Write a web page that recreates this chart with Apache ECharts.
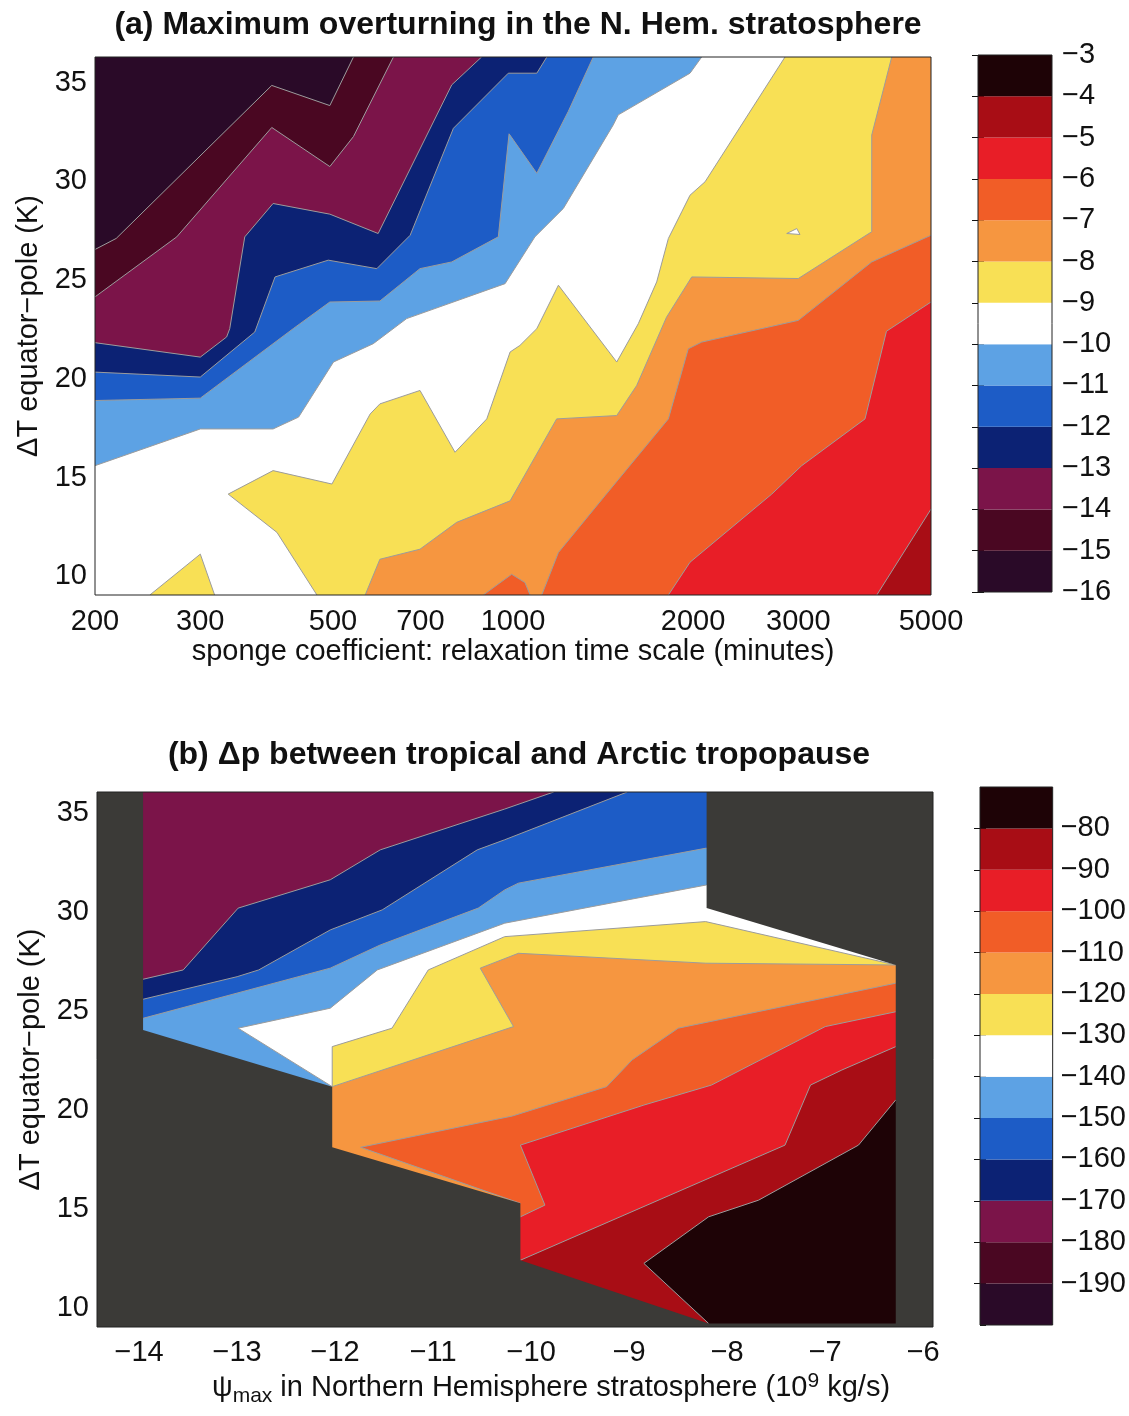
<!DOCTYPE html>
<html>
<head>
<meta charset="utf-8">
<script src="https://cdn.jsdelivr.net/npm/echarts@6/dist/echarts.min.js"></script>
<style>
  html, body { margin: 0; padding: 0; background: #ffffff; }
  #chart { width: 1129px; height: 1416px; }
</style>
</head>
<body>
<div id="chart"></div>
<script>
// ---------- shared ----------
const FONT = '"Liberation Sans", Arial, Helvetica, sans-serif';
// 13-step diverging palette, lowest band first
const bandColors = ['#2a0a28', '#4a0722', '#7b1449', '#0c2274', '#1d5cc6', '#5da2e4',
  '#ffffff', '#f8e055', '#f69640', '#f15d27', '#e81e27', '#a80d15', '#1e0306'];
const maskColor = '#3b3a37';
const lineColor = '#9c9c9c';

// ---------- panel (a): max overturning vs sponge coefficient ----------
const spongeTicks = [200, 300, 500, 700, 1000, 2000, 3000, 5000];
const dTTicks = [10, 15, 20, 25, 30, 35];
const spongeExtent = [200, 5000];
const dTExtentA = [9.05, 36.3];
const levelsA = [-16, -15, -14, -13, -12, -11, -10, -9, -8, -7, -6, -5, -4, -3];

// contour lines [sponge (min), dT (K)]
const contourA_m15 = [[541, 36.3], [494, 33.84], [395, 34.86], [217, 27.11], [200, 26.55]];
const contourA_m14 = [[631, 36.3], [541, 32.27], [494, 30.75], [395, 32.73], [274, 27.19], [200, 24.15]];
const contourA_m13 = [[886, 36.3], [790, 34.89], [595, 27.36], [494, 28.34], [397, 28.88], [356, 27.19],
  [336, 22.54], [332, 22.12], [300, 21.10], [200, 21.83]];
const contourA_m12 = [[1139, 36.3], [1096, 35.48], [982, 35.48], [795, 32.69], [673, 27.27], [592, 25.58],
  [491, 26.01], [400, 25.16], [370, 22.37], [300, 20.09], [200, 20.34]];
const contourA_m11 = [[1362, 36.3], [1237, 33.54], [1096, 30.41], [985, 32.41], [945, 27.19], [790, 25.92],
  [699, 25.58], [599, 23.94], [494, 23.89], [429, 22.54], [300, 19.02], [200, 18.90]];
const contourA_m10 = [[2068, 36.3], [1977, 35.48], [1500, 33.37], [1471, 32.86], [1214, 28.63], [1088, 27.19],
  [970, 24.82], [664, 23.05], [584, 21.78], [501, 20.85], [438, 18.06], [397, 17.46], [300, 17.46], [200, 15.60]];
const contourA_m9 = [[2850, 36.3], [2095, 29.98], [1977, 29.30], [1915, 28.46], [1819, 27.11], [1739, 24.91],
  [1620, 22.79], [1491, 20.85], [1191, 24.74], [1096, 22.54], [1027, 21.69], [989, 21.36], [904, 17.97],
  [800, 16.28], [699, 19.41], [599, 18.73], [577, 18.22], [498, 14.67], [397, 15.35], [334, 14.16],
  [403, 12.22], [470, 9.05]];
const contourA_m8 = [[4298, 36.3], [3980, 32.35], [3980, 27.45], [3000, 25.08], [1990, 25.16], [1806, 23.12],
  [1610, 19.66], [1491, 18.14], [1183, 17.97], [989, 13.82], [805, 12.73], [699, 11.37], [599, 10.86], [566, 9.05]];
const contourA_m7 = [[5000, 27.27], [3980, 25.92], [3000, 22.96], [2068, 21.86], [1964, 21.52], [1819, 17.97],
  [1425, 14.08], [1191, 11.20], [1117, 9.05]];
const contourA_m6 = [[5000, 23.89], [4212, 22.41], [3878, 17.97], [3039, 15.60], [2708, 14.16], [1977, 10.71], [1819, 9.05]];
const contourA_m5 = [[5000, 13.40], [4058, 9.05]];
// small closed pockets
const pocketA_yellow = [[247, 9.05], [300, 11.12], [317, 9.05]];
const pocketA_orange = [[892, 9.05], [995, 10.10], [1047, 9.68], [1068, 9.05]];
const pocketA_white = [[2869, 27.36], [2982, 27.61], [3019, 27.31]];

const contoursA = [
  { level: -5, pts: contourA_m5, ends: ['right', 'bottom'] },
  { level: -6, pts: contourA_m6, ends: ['right', 'bottom'] },
  { level: -7, pts: contourA_m7, ends: ['right', 'bottom'] },
  { level: -8, pts: contourA_m8, ends: ['top', 'bottom'] },
  { level: -9, pts: contourA_m9, ends: ['top', 'bottom'] },
  { level: -10, pts: contourA_m10, ends: ['top', 'left'] },
  { level: -11, pts: contourA_m11, ends: ['top', 'left'] },
  { level: -12, pts: contourA_m12, ends: ['top', 'left'] },
  { level: -13, pts: contourA_m13, ends: ['top', 'left'] },
  { level: -14, pts: contourA_m14, ends: ['top', 'left'] },
  { level: -15, pts: contourA_m15, ends: ['top', 'left'] }
];
const pocketsA = [
  { low: -9, pts: pocketA_yellow, closed: false },
  { low: -7, pts: pocketA_orange, closed: false },
  { low: -10, pts: pocketA_white, closed: true }
];

// ---------- panel (b): tropopause pressure difference vs psi_max ----------
const psiTicks = [-14, -13, -12, -11, -10, -9, -8, -7, -6];
const psiExtent = [-14.43, -5.9];
const dTExtentB = [9.05, 36.05];
const levelsB = [-200, -190, -180, -170, -160, -150, -140, -130, -120, -110, -100, -90, -80, -70];

// outline of the sampled (psi_max, dT) region
const domainB = [[-13.96, 36.05], [-8.21, 36.05], [-8.21, 30.19], [-6.28, 27.32], [-6.28, 9.23], [-8.19, 9.23],
  [-10.11, 12.42], [-10.11, 15.29], [-12.03, 18.12], [-12.03, 21.18], [-13.96, 24.04]];

const contourB_m170 = [[-9.77, 36.05], [-10.27, 35.19], [-11.54, 33.13], [-12.05, 31.62], [-12.99, 30.19], [-13.55, 27.07], [-13.96, 26.60]];
const contourB_m160 = [[-9.02, 36.05], [-10.27, 33.64], [-10.55, 33.13], [-11.52, 30.10], [-12.05, 29.09], [-12.78, 27.07], [-13.00, 26.73], [-13.96, 25.59]];
const contourB_m150 = [[-8.21, 33.22], [-10.13, 31.45], [-10.27, 31.11], [-10.54, 30.19], [-11.54, 28.33], [-12.05, 27.16], [-13.96, 24.63]];
const contourB_m140 = [[-8.21, 31.36], [-10.27, 29.43], [-11.57, 27.07], [-12.05, 25.14], [-12.99, 24.13], [-12.03, 21.18]];
const contourB_m130 = [[-6.28, 27.32], [-8.22, 29.51], [-10.27, 28.75], [-11.05, 27.07], [-11.42, 24.13], [-12.03, 23.20], [-12.03, 21.18]];
const contourB_m120 = [[-6.28, 27.32], [-8.22, 27.41], [-10.13, 27.91], [-10.52, 27.16], [-10.18, 24.21], [-12.03, 21.18]];
const contourB_m110 = [[-6.28, 26.40], [-8.50, 24.13], [-8.97, 22.53], [-9.23, 21.18], [-10.19, 19.70], [-11.74, 18.12], [-10.11, 15.29]];
const contourB_m100 = [[-6.28, 24.96], [-7.00, 24.21], [-8.16, 21.26], [-8.85, 20.25], [-10.11, 18.23], [-9.86, 15.20], [-10.11, 14.61]];
const contourB_m90 = [[-6.28, 23.20], [-6.83, 22.02], [-7.15, 21.26], [-7.41, 18.23], [-10.11, 12.42]];
const contourB_m80 = [[-6.28, 20.51], [-6.66, 18.23], [-7.68, 15.45], [-8.19, 14.61], [-8.85, 12.26], [-8.19, 9.23]];

const contoursB = [
  { level: -80, pts: contourB_m80, ends: ['right', 'bottom'] },
  { level: -90, pts: contourB_m90, ends: ['right', 'left'] },
  { level: -100, pts: contourB_m100, ends: ['right', 'left'] },
  { level: -110, pts: contourB_m110, ends: ['right', 'left'] },
  { level: -120, pts: contourB_m120, ends: ['right', 'left'] },
  { level: -130, pts: contourB_m130, ends: ['right', 'left'] },
  { level: -140, pts: contourB_m140, ends: ['right', 'left'] },
  { level: -150, pts: contourB_m150, ends: ['right', 'left'] },
  { level: -160, pts: contourB_m160, ends: ['top', 'left'] },
  { level: -170, pts: contourB_m170, ends: ['top', 'left'] }
];

// ---------- filled-contour construction ----------
// Each contour keeps lower values on its right-hand side; the region below a level is
// closed by walking the plot frame clockwise from the line's end back to its start.
function buildShapes(cfg) {
  const [x0, x1] = cfg.xExtent, [y0, y1] = cfg.yExtent;
  const nx = cfg.xLog ? (x => Math.log(x / x0) / Math.log(x1 / x0)) : (x => (x - x0) / (x1 - x0));
  const ny = y => (y - y0) / (y1 - y0);
  const frame = [[x0, y1], [x1, y1], [x1, y0], [x0, y0]];
  const onEdge = (p, side) => side === 'top' ? [p[0], y1] : side === 'bottom' ? [p[0], y0]
    : side === 'left' ? [x0, p[1]] : [x1, p[1]];
  const perim = (p, side) => side === 'top' ? nx(p[0]) : side === 'right' ? 2 - ny(p[1])
    : side === 'bottom' ? 3 - nx(p[0]) : 3 + ny(p[1]);
  const lv = cfg.levels;
  const shapes = [];
  const ordered = cfg.contours.slice().sort((a, b) => b.level - a.level);
  shapes.push({ kind: 'polygon', pts: frame, fill: bandColors[lv.indexOf(ordered[0].level)] });
  ordered.forEach(c => {
    const s = onEdge(c.pts[0], c.ends[0]);
    const e = onEdge(c.pts[c.pts.length - 1], c.ends[1]);
    let tS = perim(s, c.ends[0]);
    const tE = perim(e, c.ends[1]);
    if (tS <= tE) tS += 4;
    const walk = [];
    for (let k = Math.floor(tE) + 1; k < tS; k++) walk.push(frame[k % 4]);
    shapes.push({ kind: 'polygon', pts: [s, ...c.pts, e, ...walk], fill: bandColors[lv.indexOf(c.level) - 1] });
  });
  (cfg.pockets || []).forEach(p => {
    shapes.push({ kind: 'polygon', pts: p.pts, fill: bandColors[lv.indexOf(p.low)] });
  });
  ordered.forEach(c => shapes.push({ kind: 'polyline', pts: c.pts }));
  (cfg.pockets || []).forEach(p => {
    shapes.push({ kind: 'polyline', pts: p.closed ? [...p.pts, p.pts[0]] : p.pts });
  });
  if (cfg.domain) {
    const d = cfg.domain;
    shapes.push({ kind: 'polygon', pts: [frame[0], d[0], ...d.slice(1).reverse(), frame[1], frame[2], frame[3]], fill: maskColor });
  }
  return shapes;
}

const shapesA = buildShapes({ xExtent: spongeExtent, yExtent: dTExtentA, xLog: true, levels: levelsA, contours: contoursA, pockets: pocketsA });
const shapesB = buildShapes({ xExtent: psiExtent, yExtent: dTExtentB, xLog: false, levels: levelsB, contours: contoursB, domain: domainB });

function contourRenderer(shapes) {
  return function (params, api) {
    const s = shapes[params.dataIndex];
    const points = s.pts.map(p => api.coord(p));
    if (s.kind === 'polygon') {
      return { type: 'polygon', z2: params.dataIndex, shape: { points }, style: { fill: s.fill } };
    }
    return { type: 'polyline', z2: params.dataIndex, shape: { points }, style: { stroke: lineColor, lineWidth: 1, fill: null } };
  };
}

function colorbarRenderer(levels) {
  return function (params, api) {
    const i = params.dataIndex;
    const a = api.coord([0, levels[i + 1]]);
    const b = api.coord([1, levels[i]]);
    return { type: 'rect', shape: { x: a[0], y: a[1], width: b[0] - a[0], height: b[1] - a[1] }, style: { fill: bandColors[i] } };
  };
}

const minus = v => String(Math.round(v * 1000) / 1000).replace('-', '\u2212');
const tickText = { fontSize: 29, fontFamily: FONT, color: '#111' };
const nameText = { fontSize: 29, fontFamily: FONT, color: '#111' };
const gridFrame = { show: true, borderColor: '#222', borderWidth: 1, backgroundColor: 'transparent', z: 5 };

const option = {
  animation: false,
  backgroundColor: '#ffffff',
  title: [
    { text: '(a) Maximum overturning in the N. Hem. stratosphere', left: 513, top: 4, textAlign: 'center',
      textStyle: { fontSize: 32, fontWeight: 'bold', fontFamily: FONT, color: '#111' } },
    { text: '(b) \u0394p between tropical and Arctic tropopause', left: 514, top: 734, textAlign: 'center',
      textStyle: { fontSize: 32, fontWeight: 'bold', fontFamily: FONT, color: '#111' } }
  ],
  grid: [
    Object.assign({ left: 95, top: 57, width: 836, height: 538 }, gridFrame),
    Object.assign({ left: 97, top: 792, width: 836, height: 535 }, gridFrame),
    Object.assign({ left: 978, top: 55, width: 74, height: 537 }, gridFrame),
    Object.assign({ left: 980, top: 787, width: 74, height: 538 }, gridFrame)
  ],
  xAxis: [
    { type: 'log', gridIndex: 0, logBase: 10, min: spongeExtent[0], max: spongeExtent[1],
      splitLine: { show: false }, axisLine: { show: false }, minorTick: { show: false },
      axisTick: { show: false },
      axisLabel: Object.assign({ customValues: spongeTicks, margin: 12, formatter: v => String(Math.round(v)) }, tickText),
      name: 'sponge coefficient: relaxation time scale (minutes)', nameLocation: 'middle', nameGap: 42, nameTextStyle: nameText },
    { type: 'value', gridIndex: 1, min: psiExtent[0], max: psiExtent[1],
      splitLine: { show: false }, axisLine: { show: false }, axisTick: { show: false },
      axisLabel: Object.assign({ customValues: psiTicks, margin: 11, formatter: minus }, tickText),
      name: '{t|\u03c8}{sub|max}{t| in Northern Hemisphere stratosphere (10}{sup|9}{t| kg/s)}',
      nameLocation: 'middle', nameGap: 42,
      nameTextStyle: Object.assign({}, nameText, {
        padding: [0, 0, 0, 72],
        rich: {
          t: { fontSize: 29, fontFamily: FONT, color: '#111' },
          sub: { fontSize: 21, fontFamily: FONT, color: '#111', padding: [17, 0, 0, 0] },
          sup: { fontSize: 21, fontFamily: FONT, color: '#111', padding: [0, 0, 14, 0] }
        }
      }) },
    { type: 'value', gridIndex: 2, min: 0, max: 1, show: false },
    { type: 'value', gridIndex: 3, min: 0, max: 1, show: false }
  ],
  yAxis: [
    { type: 'value', gridIndex: 0, min: dTExtentA[0], max: dTExtentA[1],
      splitLine: { show: false }, axisLine: { show: false }, axisTick: { show: false },
      axisLabel: Object.assign({ customValues: dTTicks, margin: 8 }, tickText),
      name: '\u0394T equator\u2212pole (K)', nameLocation: 'middle', nameGap: 52, nameTextStyle: nameText },
    { type: 'value', gridIndex: 1, min: dTExtentB[0], max: dTExtentB[1],
      splitLine: { show: false }, axisLine: { show: false }, axisTick: { show: false },
      axisLabel: Object.assign({ customValues: dTTicks, margin: 8 }, tickText),
      name: '\u0394T equator\u2212pole (K)', nameLocation: 'middle', nameGap: 52, nameTextStyle: nameText },
    { type: 'value', gridIndex: 2, position: 'right', min: levelsA[0], max: levelsA[levelsA.length - 1], interval: 1,
      splitLine: { show: false }, axisLine: { show: false },
      axisTick: { show: true, inside: true, length: 6, lineStyle: { color: '#111' } },
      axisLabel: Object.assign({ margin: 10, formatter: minus }, tickText) },
    { type: 'value', gridIndex: 3, position: 'right', min: levelsB[0], max: levelsB[levelsB.length - 1], interval: 10,
      splitLine: { show: false }, axisLine: { show: false },
      axisTick: { show: true, inside: true, length: 6, lineStyle: { color: '#111' } },
      axisLabel: Object.assign({ margin: 8, formatter: minus, showMinLabel: false, showMaxLabel: false }, tickText) },
    { type: 'value', gridIndex: 2, position: 'left', min: levelsA[0], max: levelsA[levelsA.length - 1], interval: 1,
      splitLine: { show: false }, axisLine: { show: false }, axisLabel: { show: false },
      axisTick: { show: true, inside: true, length: 6, lineStyle: { color: '#111' } } },
    { type: 'value', gridIndex: 3, position: 'left', min: levelsB[0], max: levelsB[levelsB.length - 1], interval: 10,
      splitLine: { show: false }, axisLine: { show: false }, axisLabel: { show: false },
      axisTick: { show: true, inside: true, length: 6, lineStyle: { color: '#111' } } }
  ],
  series: [
    { type: 'custom', xAxisIndex: 0, yAxisIndex: 0, clip: true, silent: true,
      renderItem: contourRenderer(shapesA), encode: { x: 0, y: 1 },
      data: shapesA.map(s => s.pts[0]) },
    { type: 'custom', xAxisIndex: 1, yAxisIndex: 1, clip: true, silent: true,
      renderItem: contourRenderer(shapesB), encode: { x: 0, y: 1 },
      data: shapesB.map(s => s.pts[0]) },
    { type: 'custom', xAxisIndex: 2, yAxisIndex: 2, silent: true,
      renderItem: colorbarRenderer(levelsA), encode: { x: 0, y: 1 },
      data: levelsA.slice(0, -1).map(v => [0, v]) },
    { type: 'custom', xAxisIndex: 3, yAxisIndex: 3, silent: true,
      renderItem: colorbarRenderer(levelsB), encode: { x: 0, y: 1 },
      data: levelsB.slice(0, -1).map(v => [0, v]) }
  ]
};

const chart = echarts.init(document.getElementById('chart'), null, { renderer: 'canvas' });
chart.setOption(option);
</script>
</body>
</html>
